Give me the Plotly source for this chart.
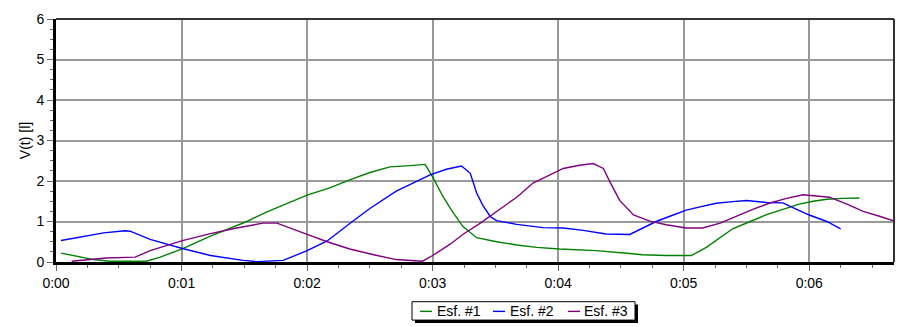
import plotly.graph_objects as go

# ---- data (time in seconds, volume in l) ----
esf1_t = [0.4, 2.2, 3.0, 4.3, 7.2, 8.3, 10.0, 12.3, 15.2, 16.8, 18.1, 20.0, 21.8, 23.4, 25.0,
          26.6, 28.2, 29.4, 30.0, 30.8, 31.5, 32.4, 33.5, 35.1, 36.7, 38.3, 40.1, 43.0, 45.7,
          46.7, 48.6, 50.6, 51.8, 52.9, 53.9, 55.3, 56.6, 57.9, 59.2, 60.3, 61.4, 62.7, 64.0]
esf1_v = [0.22, 0.12, 0.06, 0.02, 0.02, 0.12, 0.32, 0.64, 1.00, 1.24, 1.40, 1.65, 1.83, 2.03, 2.21,
          2.35, 2.38, 2.41, 2.10, 1.63, 1.28, 0.88, 0.60, 0.50, 0.42, 0.36, 0.32, 0.28, 0.21,
          0.18, 0.16, 0.16, 0.36, 0.61, 0.82, 1.00, 1.17, 1.30, 1.43, 1.50, 1.55, 1.57, 1.58]

esf2_t = [0.4, 2.2, 3.8, 5.5, 5.9, 7.5, 10.0, 12.3, 14.9, 16.0, 18.1, 20.0, 21.6, 23.4, 25.0,
          27.1, 28.7, 29.8, 31.1, 32.3, 33.0, 33.5, 34.0, 34.6, 35.1, 36.7, 38.8, 40.4, 42.0,
          43.8, 45.7, 46.8, 47.8, 48.9, 50.2, 51.3, 52.6, 53.9, 55.0, 56.6, 57.9, 59.0, 60.0,
          61.4, 62.5]
esf2_v = [0.53, 0.64, 0.72, 0.77, 0.76, 0.56, 0.34, 0.16, 0.04, 0.01, 0.04, 0.28, 0.52, 0.95, 1.32,
          1.75, 1.99, 2.15, 2.29, 2.37, 2.19, 1.71, 1.40, 1.12, 1.02, 0.93, 0.85, 0.84, 0.78,
          0.69, 0.68, 0.84, 1.00, 1.13, 1.28, 1.36, 1.45, 1.49, 1.52, 1.47, 1.46, 1.30, 1.16,
          1.00, 0.82]

esf3_t = [1.25, 3.0, 4.0, 6.3, 7.5, 10.0, 12.3, 14.4, 16.5, 17.6, 18.6, 20.0, 21.6, 23.4, 25.3,
          27.1, 29.2, 30.0, 31.4, 32.4, 33.8, 35.1, 36.7, 38.0, 39.3, 40.4, 41.7, 42.8, 43.6,
          44.1, 44.9, 46.0, 47.3, 48.6, 50.2, 51.5, 52.9, 54.2, 55.5, 56.8, 58.2, 59.5, 60.3,
          61.6, 63.0, 64.3, 65.6, 66.8]
esf3_v = [0.02, 0.08, 0.10, 0.12, 0.28, 0.52, 0.70, 0.84, 0.96, 0.96, 0.84, 0.68, 0.50, 0.32, 0.18,
          0.06, 0.02, 0.16, 0.44, 0.68, 0.96, 1.24, 1.60, 1.95, 2.15, 2.31, 2.39, 2.43, 2.31,
          1.99, 1.52, 1.16, 1.01, 0.92, 0.84, 0.84, 0.96, 1.14, 1.30, 1.45, 1.57, 1.66, 1.64,
          1.60, 1.43, 1.25, 1.13, 1.01]

series_names = ["Esf. #1", "Esf. #2", "Esf. #3"]
series_colors = ["#008000", "#0000ff", "#800080"]

x_tickvals = [0, 10, 20, 30, 40, 50, 60]
x_ticktext = ["0:00", "0:01", "0:02", "0:03", "0:04", "0:05", "0:06"]
y_tickvals = [0, 1, 2, 3, 4, 5, 6]

FONT = "Liberation Sans, Arial, sans-serif"

fig = go.Figure()
for t, v, name, col in zip([esf1_t, esf2_t, esf3_t], [esf1_v, esf2_v, esf3_v],
                           series_names, series_colors):
    fig.add_trace(go.Scatter(x=t, y=v, mode="lines", name=name,
                             line=dict(color=col, width=1.4), showlegend=False))

W, H = 908, 327
ml, mr, mt, mb = 56, 14, 11, 65
pw, ph = W - ml - mr, H - mt - mb

def px2paper_x(px):
    return (px - ml) / pw

def px2paper_y(py):
    return (H - mb - py) / ph

# legend box (drawn manually as in the original)
lx0, ly0, lx1, ly1 = 412, 303, 635, 322
shapes = [
    dict(type="rect", xref="paper", yref="paper", layer="above",
         x0=px2paper_x(lx0 + 3), x1=px2paper_x(lx1 + 3),
         y0=px2paper_y(ly0 + 3), y1=px2paper_y(ly1 + 3),
         fillcolor="black", line=dict(width=0)),
    dict(type="rect", xref="paper", yref="paper", layer="above",
         x0=px2paper_x(lx0), x1=px2paper_x(lx1),
         y0=px2paper_y(ly0), y1=px2paper_y(ly1),
         fillcolor="white", line=dict(color="black", width=1)),
    dict(type="line", xref="paper", yref="paper", layer="above",
         x0=0, x1=1, y0=1, y1=1, line=dict(color="#333333", width=2)),
    dict(type="line", xref="paper", yref="paper", layer="above",
         x0=1, x1=1, y0=0, y1=1, line=dict(color="#333333", width=2)),
]

legend_cy = 313
dash_x = [420, 493, 568]
text_x = [436, 509, 583]
annotations = []
for name, col, dx, tx in zip(series_names, series_colors, dash_x, text_x):
    shapes.append(dict(type="line", xref="paper", yref="paper", layer="above",
                       x0=px2paper_x(dx), x1=px2paper_x(dx + 12),
                       y0=px2paper_y(legend_cy), y1=px2paper_y(legend_cy),
                       line=dict(color=col, width=1.4)))
    annotations.append(dict(
        xref="paper", yref="paper", x=px2paper_x(tx), y=px2paper_y(legend_cy),
        xanchor="left", yanchor="middle", showarrow=False, borderpad=0,
        text=name, font=dict(family=FONT, size=14, color="black")))

fig.update_layout(
    width=W, height=H,
    margin=dict(l=ml, r=mr, t=mt, b=mb),
    paper_bgcolor="white", plot_bgcolor="white",
    font=dict(family=FONT, size=14, color="black"),
    shapes=shapes, annotations=annotations,
    xaxis=dict(range=[0, 66.75], tickvals=x_tickvals, ticktext=x_ticktext,
               showgrid=True, gridcolor="#999999", gridwidth=1.5,
               zeroline=False, showline=True, linecolor="black", linewidth=3,
               ticks="outside", ticklen=6, tickcolor="#666666", tickwidth=1,
               minor=dict(dtick=2.5, tick0=0, ticks="outside", ticklen=3,
                          tickcolor="#666666", showgrid=False),
               tickfont=dict(size=14)),
    yaxis=dict(range=[0, 6], tickvals=y_tickvals,
               showgrid=True, gridcolor="#999999", gridwidth=1.5,
               zeroline=False, showline=True, linecolor="black", linewidth=3,
               ticks="outside", ticklen=6, tickcolor="#666666", tickwidth=1,
               minor=dict(dtick=0.25, tick0=0, ticks="outside", ticklen=3,
                          tickcolor="#666666", showgrid=False),
               tickfont=dict(size=14),
               title=dict(text="V(t) [l]", font=dict(size=14), standoff=3)),
)

fig.write_html("out.html", config={"displayModeBar": False},
               post_script="document.body.style.margin='0';document.body.style.overflow='hidden';")
